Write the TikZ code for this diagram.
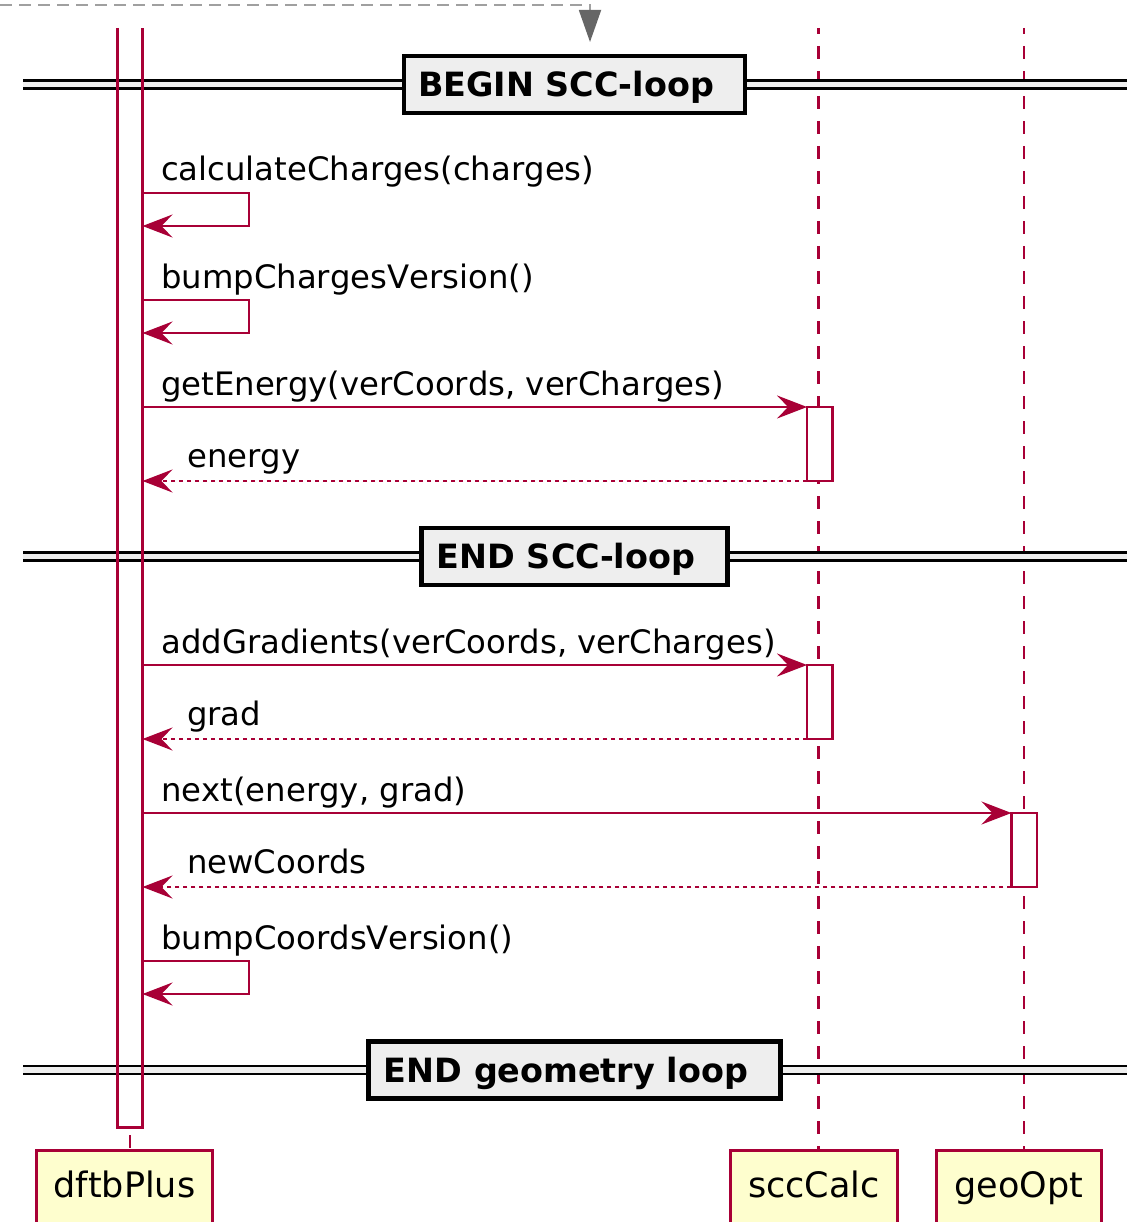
\documentclass[tikz,border=0pt]{standalone}
\usepackage{fontspec}
\setmainfont{DejaVu Sans}[Kerning=Off]
\usetikzlibrary{arrows.meta}
\definecolor{umlred}{HTML}{A80036}
\definecolor{partfill}{HTML}{FEFECE}
\definecolor{sepfill}{HTML}{EEEEEE}
\definecolor{entryline}{HTML}{A0A0A0}
\definecolor{entrytip}{HTML}{666666}

% divider: name, y centre, box width, title
\newcommand\sepdivider[4]{%
  \fill[sepfill] (23,#2-3.9) rectangle (1127,#2+3.9);
  \draw[sepline] (23,#2-3.9) -- (1127,#2-3.9);
  \draw[sepline] (23,#2+3.9) -- (1127,#2+3.9);
  \node[sepbox, minimum width=#3] (#1) at (574.5,#2) {#4\hspace*{17pt}};
}

\begin{document}
\begin{tikzpicture}[x=1pt,y=-1pt,
  msgfont/.style={font=\fontsize{32.3}{38}\selectfont},
  msg/.style={draw=umlred, line width=2.3pt, line join=miter,
    -{Stealth[length=30pt,width=23pt,inset=11pt,color=umlred,fill=umlred]}},
  reply/.style={msg, dash pattern=on 4.5pt off 3.5pt},
  msglabel/.style={msgfont, anchor=base west, inner sep=0pt},
  lifeline/.style={draw=umlred, line width=2.4pt, dash pattern=on 13pt off 12pt},
  actbox/.style={draw=umlred, fill=white, line width=2.3pt, minimum width=25.5pt,
    minimum height=74pt, inner sep=0pt, outer sep=0pt},
  partbox/.style={draw=umlred, fill=partfill, line width=3.2pt,
    font=\fontsize{35}{40}\selectfont, text height=25.5pt, text depth=8pt,
    inner ysep=22pt, inner xsep=0pt, anchor=north},
  sepbox/.style={draw=black, fill=sepfill, line width=4.5pt,
    font=\fontsize{33.4}{38}\selectfont\bfseries, text height=24pt, text depth=0pt,
    inner sep=0pt, minimum height=57pt},
  sepline/.style={draw=black, line width=2.5pt},
]
\useasboundingbox (0,0) rectangle (1133,1222);
\clip (0,0) rectangle (1133,1222);

% incoming entry arrow
\coordinate (entryA) at (0,5);
\coordinate (entryB) at (590,42);
\draw[entryline, line width=1.8pt, dash pattern=on 12pt off 7pt,
  -{Triangle[length=32pt,width=22pt,color=entrytip,fill=entrytip]}] (entryA) -| (entryB);

% participants
\node[partbox, minimum width=176pt] (dftb) at (124.5,1148.5) {dftbPlus};
\node[partbox, minimum width=167pt] (scc) at (814,1148.5) {sccCalc};
\node[partbox, minimum width=165pt] (geo) at (1019,1148.5) {geoOpt};

% lifelines
\coordinate (top1) at (130,28);
\coordinate (top2) at (818.3,28);
\coordinate (top3) at (1024.2,28);
\draw[lifeline, dash phase=18pt] (top1) -- (top1 |- dftb.north);
\draw[lifeline, dash phase=7pt] (top2) -- (top2 |- scc.north);
\draw[lifeline, dash phase=7pt] (top3) -- (top3 |- geo.north);

% activation of dftbPlus
\fill[white] (117.5,28) rectangle (142.5,1127.5);

% dividers
\sepdivider{begscc}{84.5}{341pt}{BEGIN SCC-loop}
\sepdivider{endscc}{556.5}{306pt}{END SCC-loop}
\sepdivider{endgeo}{1070}{412pt}{END geometry loop}

\draw[umlred, line width=2.3pt] (117.5,28) -- (117.5,1127.5) -- (142.5,1127.5) -- (142.5,28);

% activations of sccCalc and geoOpt
\node[actbox] (act1) at (819.8,444) {};
\node[actbox] (act2) at (819.8,702) {};
\node[actbox] (act3) at (1024.2,850) {};

% self message: calculateCharges
\coordinate (c1a) at (142.5,193);
\coordinate (c1b) at (142.5,226);
\draw[msg] (c1a) -- ++(106.5,0) |- (c1b);
\node[msglabel] (t1) at (161,181) {calculateCharges(charges)};

% self message: bumpChargesVersion
\coordinate (c2a) at (142.5,300);
\coordinate (c2b) at (142.5,333);
\draw[msg] (c2a) -- ++(106.5,0) |- (c2b);
\node[msglabel] (t2) at (161,288) {bumpChargesVersion()};

% getEnergy and reply
\coordinate (c3) at (142.5,407);
\draw[msg] (c3) -- (act1.west |- c3);
\node[msglabel] (t3) at (161,395) {getEnergy(verCoords, verCharges)};
\coordinate (c4) at (142.5,481);
\draw[reply] (act1.south west) -- (c4);
\node[msglabel] (t4) at (187,467) {energy};

% addGradients and reply
\coordinate (c5) at (142.5,665);
\draw[msg] (c5) -- (act2.west |- c5);
\node[msglabel] (t5) at (161,653) {addGradients(verCoords, verCharges)};
\coordinate (c6) at (142.5,739);
\draw[reply] (act2.south west) -- (c6);
\node[msglabel] (t6) at (187,725) {grad};

% next and reply
\coordinate (c7) at (142.5,813);
\draw[msg] (c7) -- (act3.west |- c7);
\node[msglabel] (t7) at (161,801) {next(energy, grad)};
\coordinate (c8) at (142.5,887);
\draw[reply] (act3.south west) -- (c8);
\node[msglabel] (t8) at (187,873) {newCoords};

% self message: bumpCoordsVersion
\coordinate (c9a) at (142.5,961);
\coordinate (c9b) at (142.5,994);
\draw[msg] (c9a) -- ++(106.5,0) |- (c9b);
\node[msglabel] (t9) at (161,949) {bumpCoordsVersion()};
\end{tikzpicture}
\end{document}
